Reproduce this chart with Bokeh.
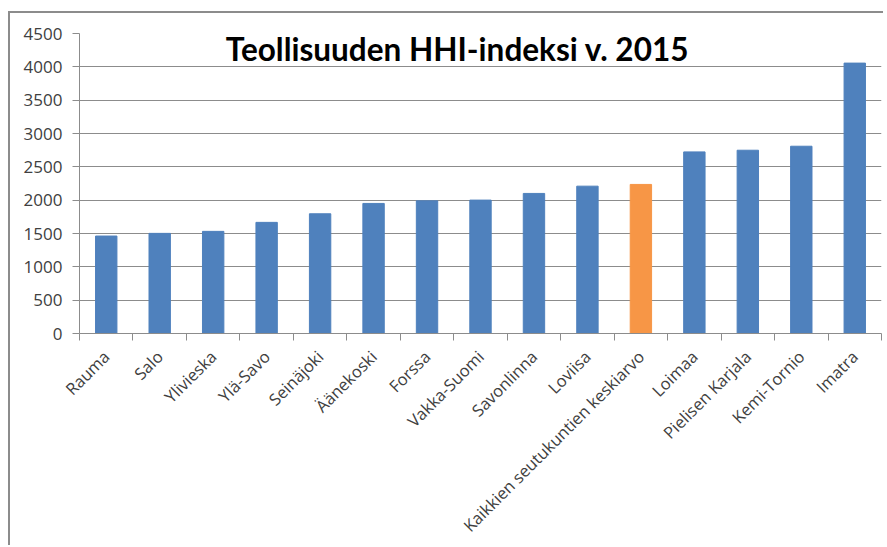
from bokeh.plotting import figure
from bokeh.models import Range1d, FixedTicker, Label
from bokeh.embed import file_html
from bokeh.resources import INLINE
import math

categories = ["Rauma", "Salo", "Ylivieska", "Ylä-Savo", "Seinäjoki", "Äänekoski",
              "Forssa", "Vakka-Suomi", "Savonlinna", "Loviisa",
              "Kaikkien seutukuntien keskiarvo", "Loimaa", "Pielisen Karjala",
              "Kemi-Tornio", "Imatra"]
values = [1462, 1502, 1532, 1667, 1796, 1951, 1990, 2001, 2101, 2210,
          2236, 2724, 2749, 2809, 4056]
highlight = "Kaikkien seutukuntien keskiarvo"
y_ticks = [0, 500, 1000, 1500, 2000, 2500, 3000, 3500, 4000, 4500]
title_text = "Teollisuuden HHI-indeksi v. 2015"

blue = "#4f81bd"
orange = "#f79646"
grid = "#8c8c8c"
label_col = "#404040"

idx = list(range(len(categories)))
colors = [orange if c == highlight else blue for c in categories]

p = figure(width=875, height=534, output_backend="svg", toolbar_location=None,
           x_range=Range1d(-0.5, len(categories) - 0.5),
           y_range=Range1d(0, 4500),
           min_border_left=69, min_border_top=20, min_border_right=4,
           min_border_bottom=213)
p.styles = {"border-left": "2px solid #8c8c8c", "border-top": "2px solid #8c8c8c",
            "margin-left": "8px", "margin-top": "11px"}
p.outline_line_color = None
p.background_fill_color = "white"
p.border_fill_color = "white"

p.vbar(x=idx, top=values, width=0.4, bottom=0, fill_color=colors, line_color=colors)

# x axis
boundaries = [i - 0.5 for i in range(len(categories) + 1)]
p.xaxis.ticker = FixedTicker(ticks=idx, minor_ticks=boundaries)
p.xaxis.major_label_overrides = {i: c for i, c in enumerate(categories)}
p.xaxis.major_label_orientation = math.pi / 4
p.xaxis.major_tick_line_color = None
p.xaxis.minor_tick_line_color = grid
p.xaxis.minor_tick_out = 7
p.xaxis.minor_tick_in = 0
p.xaxis.axis_line_color = grid
p.xaxis.major_label_text_font = "Open Sans"
p.xaxis.major_label_text_font_size = "16.5px"
p.xaxis.major_label_text_color = label_col
p.xaxis.major_label_standoff = 13

# y axis
p.yaxis.ticker = FixedTicker(ticks=y_ticks, minor_ticks=[])
p.yaxis.axis_line_color = grid
p.yaxis.major_tick_line_color = grid
p.yaxis.major_tick_out = 7
p.yaxis.major_tick_in = 0
p.yaxis.minor_tick_line_color = None
p.yaxis.major_label_text_font = "Open Sans"
p.yaxis.major_label_text_font_size = "17px"
p.yaxis.major_label_text_color = label_col
p.yaxis.major_label_standoff = 10

p.xgrid.grid_line_color = None
p.ygrid.grid_line_color = grid
p.ygrid.ticker = FixedTicker(ticks=y_ticks)

title = Label(x=6.57, y=4265, text=title_text, text_align="center",
              text_baseline="middle", text_font="Lato", text_font_style="bold",
              text_font_size="31.5px", text_color="black")
p.add_layout(title)

open("out.html", "w").write(file_html(p, INLINE))
